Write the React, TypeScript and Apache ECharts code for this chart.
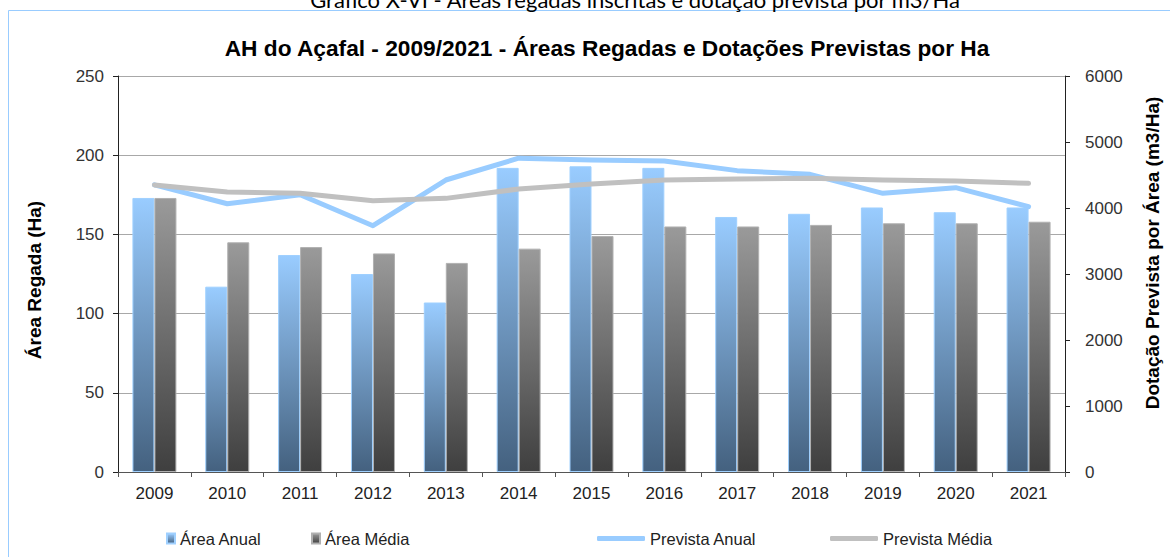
import React, { useEffect, useRef } from "react";
import * as echarts from "echarts";

const years = ["2009", "2010", "2011", "2012", "2013", "2014", "2015", "2016", "2017", "2018", "2019", "2020", "2021"];
const areaAnual = [173, 117, 137, 125, 107, 192, 193, 192, 161, 163, 167, 164, 167];
const areaMedia = [173, 145, 142, 138, 132, 141, 149, 155, 155, 156, 157, 157, 158];
const previstaAnual = [4350, 4065, 4200, 3732, 4424, 4755, 4727, 4712, 4566, 4510, 4222, 4308, 4020];
const previstaMedia = [4350, 4242, 4222, 4111, 4146, 4288, 4364, 4424, 4439, 4449, 4424, 4409, 4374];
const leftTicks = [0, 250, 50];
const rightTicks = [0, 6000, 1000];

const FONT = "Arial";

export default function App() {
  const ref = useRef<HTMLDivElement>(null);
  useEffect(() => {
    if (!ref.current) return;
    const chart = echarts.init(ref.current, null, { renderer: "svg" });
    const blueGrad = new echarts.graphic.LinearGradient(0, 0, 0, 1, [
      { offset: 0, color: "#99ccff" },
      { offset: 1, color: "#44617f" },
    ]);
    const grayGrad = new echarts.graphic.LinearGradient(0, 0, 0, 1, [
      { offset: 0, color: "#9a9a9a" },
      { offset: 1, color: "#3f3f3f" },
    ]);
    const legendBase = {
      top: 530,
      padding: 0,
      textStyle: { fontSize: 16.5, color: "#222", fontFamily: FONT },
    };
    chart.setOption({
      animation: false,
      backgroundColor: "#fff",
      textStyle: { fontFamily: FONT },
      grid: { left: 118, right: 105, top: 76, bottom: 85, containLabel: false },
      graphic: [
        {
          type: "rect",
          shape: { x: 8.5, y: 10.5, width: 1300, height: 700 },
          style: { fill: "none", stroke: "#99ccff", lineWidth: 1 },
          silent: true,
        },
        {
          type: "text",
          x: 635,
          y: -1,
          style: {
            text: "Gráfico X-VI - Áreas regadas inscritas e dotação prevista por m3/Ha",
            fontSize: 22,
            fontFamily: "Lato",
            fill: "#000",
            align: "center",
            verticalAlign: "middle",
          },
        },
        {
          type: "text",
          x: 607,
          y: 48,
          style: {
            text: "AH do Açafal - 2009/2021 - Áreas Regadas e Dotações Previstas por Ha",
            fontSize: 22.7,
            fontWeight: "bold",
            fontFamily: FONT,
            fill: "#000",
            align: "center",
            verticalAlign: "middle",
          },
        },
        {
          type: "text",
          x: 34,
          y: 280,
          rotation: Math.PI / 2,
          style: {
            text: "Área Regada (Ha)",
            fontSize: 19,
            fontWeight: "bold",
            fontFamily: FONT,
            fill: "#000",
            align: "center",
            verticalAlign: "middle",
          },
        },
        {
          type: "text",
          x: 1152,
          y: 253,
          rotation: Math.PI / 2,
          style: {
            text: "Dotação Prevista por Área (m3/Ha)",
            fontSize: 19,
            fontWeight: "bold",
            fontFamily: FONT,
            fill: "#000",
            align: "center",
            verticalAlign: "middle",
          },
        },
      ],
      legend: [
        { ...legendBase, left: 166, itemWidth: 8, itemHeight: 10, data: [{ name: "Área Anual", icon: "rect" }] },
        { ...legendBase, left: 311, itemWidth: 8, itemHeight: 10, data: [{ name: "Área Média", icon: "rect" }] },
        { ...legendBase, left: 597, itemWidth: 48, itemHeight: 5, data: [{ name: "Prevista Anual", icon: "roundRect" }] },
        { ...legendBase, left: 830, itemWidth: 48, itemHeight: 5, data: [{ name: "Prevista Média", icon: "roundRect" }] },
      ],
      xAxis: {
        type: "category",
        data: years,
        boundaryGap: true,
        axisLine: { show: true, lineStyle: { color: "#555", width: 1 } },
        axisTick: { show: true, length: 5, inside: false, lineStyle: { color: "#555" } },
        axisLabel: { fontSize: 17, color: "#222", margin: 13, fontFamily: FONT },
        splitLine: { show: false },
      },
      yAxis: [
        {
          type: "value",
          min: leftTicks[0],
          max: leftTicks[1],
          interval: leftTicks[2],
          axisLine: { show: true, lineStyle: { color: "#222", width: 1 } },
          axisTick: { show: true, length: 5, lineStyle: { color: "#222" } },
          axisLabel: { fontSize: 17, color: "#333", margin: 14, fontFamily: FONT },
          splitLine: { show: true, lineStyle: { color: "#a8a8a8", width: 1 } },
        },
        {
          type: "value",
          min: rightTicks[0],
          max: rightTicks[1],
          interval: rightTicks[2],
          position: "right",
          axisLine: { show: true, lineStyle: { color: "#222", width: 1 } },
          axisTick: { show: true, length: 5, lineStyle: { color: "#222" } },
          axisLabel: {
            fontSize: 17,
            color: "#333",
            margin: 20,
            fontFamily: FONT,
            formatter: (v: number) => String(v),
          },
          splitLine: { show: false },
        },
      ],
      series: [
        {
          name: "Área Anual",
          type: "bar",
          data: areaAnual,
          barWidth: 22,
          barGap: "0%",
          itemStyle: { color: blueGrad, borderColor: "#9fd0ff", borderWidth: 1 },
        },
        {
          name: "Área Média",
          type: "bar",
          data: areaMedia,
          barWidth: 22,
          barGap: "0%",
          itemStyle: { color: grayGrad, borderColor: "#b0b0b0", borderWidth: 1 },
        },
        {
          name: "Prevista Anual",
          type: "line",
          yAxisIndex: 1,
          data: previstaAnual,
          symbol: "none",
          showSymbol: false,
          itemStyle: { color: "#99ccff" },
          lineStyle: { color: "#99ccff", width: 5, cap: "round", join: "round" },
        },
        {
          name: "Prevista Média",
          type: "line",
          yAxisIndex: 1,
          data: previstaMedia,
          symbol: "none",
          showSymbol: false,
          itemStyle: { color: "#c0c0c0" },
          lineStyle: { color: "#c0c0c0", width: 5, cap: "round", join: "round" },
        },
      ],
    });
    return () => chart.dispose();
  }, []);
  return (
    <div
      ref={ref}
      style={{ position: "fixed", left: 0, top: 0, width: 1170, height: 557, background: "#fff" }}
    />
  );
}
